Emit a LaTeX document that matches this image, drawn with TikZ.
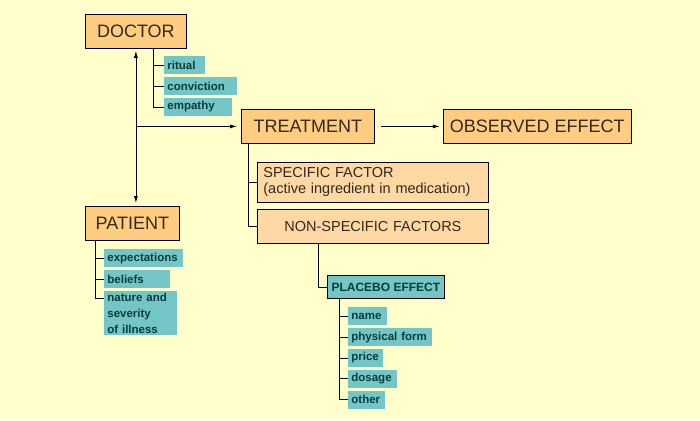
\documentclass[tikz,border=0pt]{standalone}
\usepackage{fontspec}
\setmainfont{Liberation Sans}
\usepackage{xcolor}
\usetikzlibrary{positioning,calc,arrows.meta}

\definecolor{paper}{HTML}{FFFFCC}
\definecolor{boxorange}{HTML}{FFCC80}
\definecolor{factorfill}{HTML}{FFD8A4}
\definecolor{itemteal}{HTML}{74C6C6}
\definecolor{labeltext}{HTML}{33291E}
\definecolor{itemtext}{HTML}{073C3C}

\tikzset{
  mainbox/.style={draw, fill=boxorange, text=labeltext, anchor=north west,
    font=\fontsize{18bp}{21bp}\selectfont, minimum height=34bp, inner sep=0pt},
  factorbox/.style={draw, fill=factorfill, text=labeltext, anchor=north west,
    font=\fontsize{14.5bp}{16bp}\selectfont, inner xsep=6bp, inner ysep=2bp, text width=219bp},
  itembox/.style={fill=itemteal, text=itemtext, align=left, inner xsep=3bp, inner ysep=2bp,
    font=\bfseries\fontsize{11.5bp}{16bp}\selectfont, minimum height=18bp},
}

\begin{document}
\begin{tikzpicture}[x=1bp, y=-1bp, line width=0.8bp, >={Latex[length=7bp,width=4bp]}]
    \fill[paper] (0,0) rectangle (700,420);
    \useasboundingbox (0,0) rectangle (700,420);

    % Main boxes
    \node[mainbox, minimum width=101bp] (doctor) at (85,14) {DOCTOR};
    \node[mainbox, minimum width=133bp] (treatment) at (241,109) {TREATMENT};
    \node[mainbox, minimum width=188bp, anchor=west, right=68bp of treatment] (observed) {OBSERVED EFFECT};
    \node[mainbox, minimum width=94bp] (patient) at (85,206) {PATIENT};

    % Factors
    \node[factorbox, align=left, minimum height=40bp] (specific) at (257,162) {SPECIFIC FACTOR\\(active ingredient in medication)};
    \node[factorbox, align=center, minimum height=34bp, below right=6bp and 0bp of specific.south west] (nonspecific) {NON-SPECIFIC FACTORS};
    \node[itembox, draw, align=center, font=\bfseries\fontsize{12bp}{14bp}\selectfont, minimum width=117bp, minimum height=23bp, anchor=north west] (placebo) at (327,275) {PLACEBO EFFECT};

    % Doctor items
    \node[itembox, text width=35bp, anchor=north west] (ritual) at (164,56) {ritual};
    \node[itembox, text width=67bp, below right=2bp and 0bp of ritual.south west] (conviction) {conviction};
    \node[itembox, text width=62bp, below right=2bp and 0bp of conviction.south west] (empathy) {empathy};

    % Patient items
    \node[itembox, text width=73bp, anchor=north west] (expect) at (104,249) {expectations};
    \node[itembox, text width=60bp, below right=2bp and 0bp of expect.south west] (beliefs) {beliefs};
    \node[itembox, text width=67bp, below right=2bp and 0bp of beliefs.south west] (nature) {nature and\\severity\\of illness};

    % Placebo items
    \node[itembox, text width=33bp, anchor=north west] (name) at (348,307) {name};
    \node[itembox, text width=78bp, below right=2bp and 0bp of name.south west] (form) {physical form};
    \node[itembox, text width=29bp, below right=2bp and 0bp of form.south west] (price) {price};
    \node[itembox, text width=43bp, below right=2bp and 0bp of price.south west] (dosage) {dosage};
    \node[itembox, text width=31bp, below right=2bp and 0bp of dosage.south west] (other) {other};

    % Arrows
    \draw[<->, shorten <=2bp, shorten >=3bp] (doctor.south) -- (doctor.south |- patient.north);
    \draw[->, shorten >=4bp] (doctor.south |- treatment.west) -- (treatment.west);
    \draw[->, shorten <=6bp, shorten >=3bp] (treatment) -- (observed);

    % Branch lines
    \coordinate (dspine) at ([xshift=17.5bp]doctor.south);
    \draw (dspine) |- (ritual.west);
    \draw (dspine) |- (conviction.west);
    \draw (dspine) |- (empathy.west);

    \coordinate (pspine) at ([xshift=10bp]patient.south west);
    \draw (pspine) |- (expect.west);
    \draw (pspine) |- (beliefs.west);
    \draw (pspine) |- ([yshift=-8bp]nature.north west);

    \coordinate (tspine) at ([xshift=7bp]treatment.south west);
    \draw (tspine) |- (specific.west);
    \draw (tspine) |- (nonspecific.west);

    \coordinate (nspine) at ([xshift=61bp]nonspecific.south west);
    \draw (nspine) |- (placebo.west);

    \coordinate (lspine) at ([xshift=12bp]placebo.south west);
    \draw (lspine) |- (name.west);
    \draw (lspine) |- (form.west);
    \draw (lspine) |- (price.west);
    \draw (lspine) |- (dosage.west);
    \draw (lspine) |- (other.west);
\end{tikzpicture}
\end{document}
